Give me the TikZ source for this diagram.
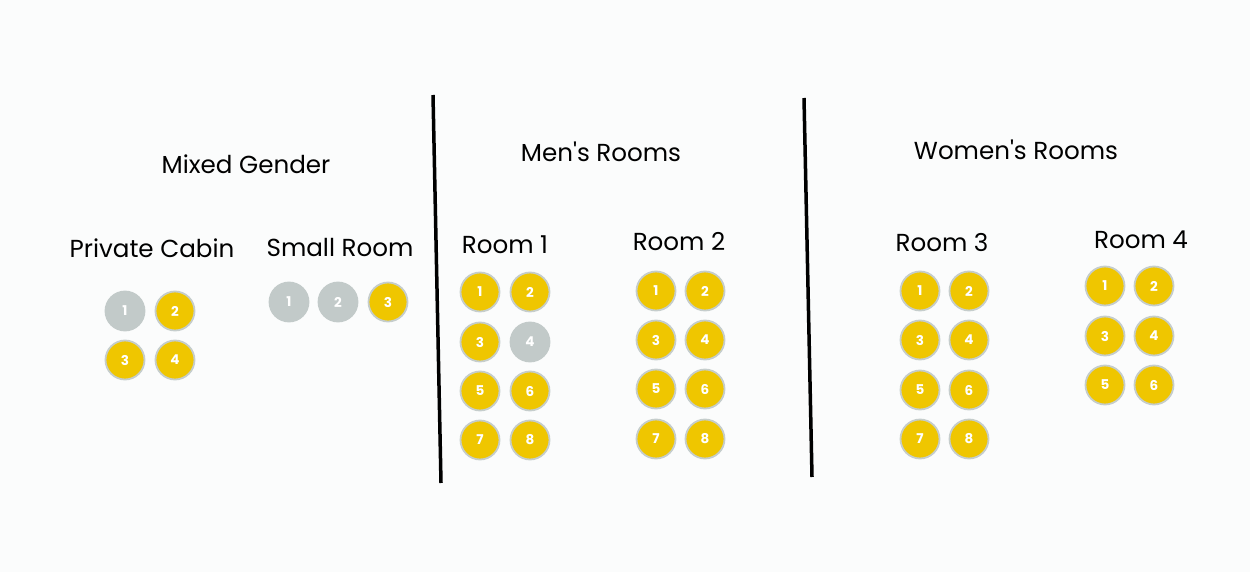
\documentclass[tikz,border=0pt]{standalone}
\usepackage{fontspec}
\setmainfont{Poppins}[Ligatures=TeXOff]
\definecolor{bg}{HTML}{FBFCFC}
\definecolor{seatyellow}{HTML}{EFC600}
\definecolor{seatgrey}{HTML}{C2CAC9}
\definecolor{seatrim}{HTML}{C5CDCC}
\begin{document}
\begin{tikzpicture}[x=1pt,y=-1pt,
  taken/.style={circle,fill=seatyellow,draw=seatrim,line width=1.8pt,minimum size=39pt,inner sep=0pt,text=white,font=\fontsize{13.5}{15}\selectfont\bfseries},
  free/.style={circle,fill=seatgrey,draw=seatgrey,line width=1.8pt,minimum size=39pt,inner sep=0pt,text=white,font=\fontsize{13.5}{15}\selectfont\bfseries},
  head/.style={font=\fontsize{24.6}{28}\selectfont,text=black,inner sep=0pt},
  sub/.style={font=\fontsize{24.6}{28}\selectfont,text=black,inner sep=0pt},
  divider/.style={line width=3.5pt,black}]
\fill[bg] (0,0) rectangle (1250,572);
\useasboundingbox (0,0) rectangle (1250,572);
% headings
\node[head] (mixed) at (246,164) {Mixed Gender};
\node[head] (men) at (601,152) {Men's Rooms};
\node[head] (women) at (1016,150) {Women's Rooms};
\node[sub] (cabin) at (152,248) {Private Cabin};
\node[sub] (small) at (340,248) {Small Room};
\node[sub] (r1) at (505,245) {Room 1};
\node[sub] (r2) at (679,242) {Room 2};
\node[sub] (r3) at (942,243) {Room 3};
\node[sub] (r4) at (1141,240) {Room 4};
% dividers
\coordinate (d1a) at (433,95);
\coordinate (d1b) at (441,483);
\coordinate (d2a) at (804,98);
\coordinate (d2b) at (812,477);
\draw[divider] (d1a) -- (d1b);
\draw[divider] (d2a) -- (d2b);
% private cabin
\node[free]  (pc1) at (125,311) {1};
\node[taken] (pc2) at (175,311) {2};
\node[taken] (pc3) at (125,360) {3};
\node[taken] (pc4) at (175,360) {4};
% small room
\node[free]  (sr1) at (289,302) {1};
\node[free]  (sr2) at (338,302) {2};
\node[taken] (sr3) at (388,302) {3};
% room 1
\node[taken] (ra1) at (480,292) {1};
\node[taken] (ra2) at (530,292) {2};
\node[taken] (ra3) at (480,342) {3};
\node[free]  (ra4) at (530,342) {4};
\node[taken] (ra5) at (480,391) {5};
\node[taken] (ra6) at (530,391) {6};
\node[taken] (ra7) at (480,440) {7};
\node[taken] (ra8) at (530,440) {8};
% room 2
\foreach \n/\x/\y in {1/656/291,2/705/291,3/656/340,4/705/340,5/656/389,6/705/389,7/656/439,8/705/439}
  \node[taken] (rb\n) at (\x,\y) {\n};
% room 3
\foreach \n/\x/\y in {1/920/291,2/969/291,3/920/340,4/969/340,5/920/390,6/969/390,7/920/439,8/969/439}
  \node[taken] (rc\n) at (\x,\y) {\n};
% room 4
\foreach \n/\x/\y in {1/1105/286,2/1154/286,3/1105/336,4/1154/336,5/1105/385,6/1154/385}
  \node[taken] (rd\n) at (\x,\y) {\n};
\end{tikzpicture}
\end{document}
